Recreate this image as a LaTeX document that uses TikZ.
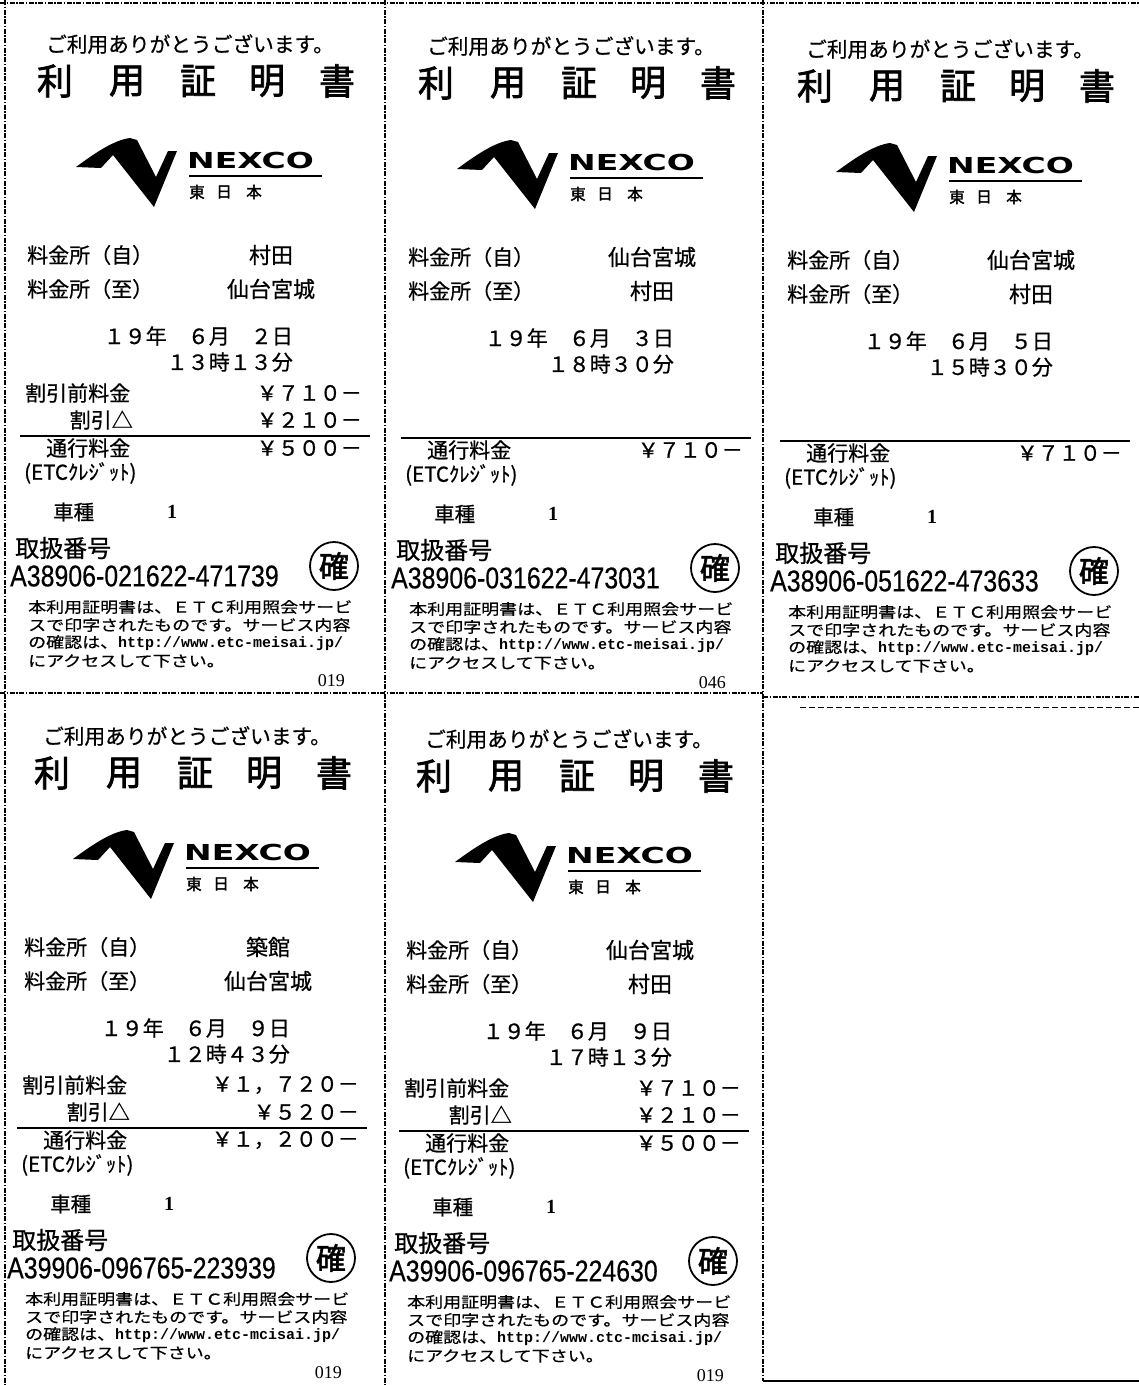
\documentclass[tikz,border=0pt]{standalone}
\usepackage{fontspec}
\newfontfamily\jp[FakeBold=0.7]{Noto Sans CJK JP}
\newfontfamily\jpb[FakeBold=2]{Noto Sans CJK JP}
\newfontfamily\jpw[FakeStretch=1.2,FakeBold=0.6]{Noto Sans CJK JP}
\newfontfamily\nex[FakeStretch=1.5]{DejaVu Sans}
\newfontfamily\idf[FakeStretch=0.83,FakeBold=0.4]{Liberation Sans}
\newfontfamily\monof{Liberation Mono}
\newfontfamily\serf{Liberation Serif}
\tikzset{
  cut/.style={line width=1.3pt, dash pattern=on 5pt off 1.5pt on 1.5pt off 1.5pt},
  txt/.style={inner sep=0pt, font=\jp\fontsize{21}{21}\selectfont},
  greet/.style={inner sep=0pt, font=\jp\fontsize{20.7}{21}\selectfont},
  titl/.style={inner sep=0pt, font=\jpb\fontsize{36}{36}\selectfont},
  val/.style={inner sep=0pt, font=\jp\fontsize{22}{22}\selectfont},
  small/.style={inner sep=0pt, font=\jp\fontsize{20.5}{21}\selectfont},
  note/.style={inner sep=0pt, anchor=west, font=\jpw\fontsize{15}{15}\selectfont},
  nexco/.style={inner sep=0pt, font=\nex\bfseries\fontsize{22}{22}\selectfont},
  east3/.style={inner sep=0pt, font=\jpb\fontsize{15.5}{16}\selectfont},
  idtxt/.style={inner sep=0pt, anchor=west, font=\idf\fontsize{30}{30}\selectfont},
  stamp/.style={inner sep=0pt, font=\jpb\fontsize{30}{30}\selectfont},
  pg/.style={inner sep=0pt, anchor=east, font=\serf\fontsize{18}{18}\selectfont},
}
\newcommand\urltext{http://www.etc-meisai.jp/}
% #1 dx #2 dy #3 from #4 to #5 date #6 time #7 toll #8 id #9 page
\newcommand\rcpt[9]{%
\begin{scope}[shift={(#1,#2)}]
  \node[greet] (g) at (190,44) {ご利用ありがとうございます。};
  \node[titl] (t1) at (55,81) {利};
  \node[titl] (t2) at (127,81) {用};
  \node[titl] (t3) at (198,81) {証};
  \node[titl] (t4) at (267,81) {明};
  \node[titl] (t5) at (337,81) {書};
  \fill (76,167) .. controls (95,153) and (114,140) .. (130,138) -- (137,140) -- (156,177)
     -- (168,151) -- (177,151) -- (154,207) -- (113,155) -- (101,168) -- cycle;
  \node[nexco, anchor=west] (nx) at (187,160) {NEXCO};
  \draw[line width=1.2pt] (189,176) -- (322,176);
  \node[east3] (e1) at (197,192) {東};
  \node[east3] (e2) at (224,192) {日};
  \node[east3] (e3) at (254,192) {本};
  \node[txt, anchor=west] (f1) at (27,255) {料金所（自）};
  \node[val] (v1) at (271,255) {#3};
  \node[txt, anchor=west] (f2) at (27,289) {料金所（至）};
  \node[val] (v2) at (271,289) {#4};
  \node[txt, anchor=east] (d1) at (293,336) {#5};
  \node[txt, anchor=east] (d2) at (293,362) {#6};
  \draw[line width=1.6pt] (20,436) -- (370,436);
  \node[txt, anchor=west] (k3) at (46,448) {通行料金};
  \node[txt, anchor=east] (a3) at (362,448) {#7};
  \node[small, anchor=west] (etc) at (24,473) {(ETCｸﾚｼﾞｯﾄ)};
  \node[small, anchor=west] (sy) at (53,512) {車種};
  \node[inner sep=0pt, font=\serf\bfseries\fontsize{20}{20}\selectfont] (one) at (172,512) {1};
  \node[inner sep=0pt, anchor=west, font=\jp\fontsize{24}{24}\selectfont] (tb) at (15,548) {取扱番号};
  \node[idtxt] (id) at (10,576) {#8};
  \node[draw, circle, line width=1.8pt, minimum size=48pt, inner sep=0pt] (ring) at (334,566) {};
  \node[stamp] (st) at (ring.center) {確};
  \node[note] (n1) at (28,607) {本利用証明書は、ＥＴＣ利用照会サービ};
  \node[note] (n2) at (28,625) {スで印字されたものです。サービス内容};
  \node[note] (n3) at (28,643) {の確認は、{\monof\bfseries\fontsize{15}{15}\selectfont\urltext}};
  \node[note] (n4) at (28,661) {にアクセスして下さい。};
  \node[pg] (p) at (345,681) {#9};
\end{scope}}
\newcommand\disc[4]{%
\begin{scope}[shift={(#1,#2)}]
  \node[txt, anchor=west] (k1) at (25,393) {割引前料金};
  \node[txt, anchor=east] (a1) at (362,393) {#3};
  \node[txt, anchor=east] (k2) at (133,420) {割引△};
  \node[txt, anchor=east] (a2) at (362,420) {#4};
\end{scope}}
\begin{document}
\begin{tikzpicture}[x=1pt,y=-1pt]
\fill[white] (0,0) rectangle (1139,1385);
\useasboundingbox (0,0) rectangle (1139,1385);
% cut lines
\draw[cut] (0,3) -- (1139,3);
\draw[cut] (5,0) -- (5,1385);
\draw[cut] (385,0) -- (385,1385);
\draw[cut] (763,0) -- (763,1381);
\draw[cut] (0,693) -- (763,693);
\draw[cut] (763,697) -- (1139,697);
\draw[line width=0.8pt, dash pattern=on 6pt off 3pt] (800,707) -- (1139,707);
\draw[line width=1.5pt] (763,1381) -- (1139,1381);
% receipts
\rcpt{0}{0}{村田}{仙台宮城}{１９年　６月　２日}{１３時１３分}{￥５００－}{A38906-021622-471739}{019}
\disc{0}{0}{￥７１０－}{￥２１０－}
\rcpt{381}{2}{仙台宮城}{村田}{１９年　６月　３日}{１８時３０分}{￥７１０－}{A38906-031622-473031}{046}
\rcpt{760}{5}{仙台宮城}{村田}{１９年　６月　５日}{１５時３０分}{￥７１０－}{A38906-051622-473633}{}
\renewcommand\urltext{http://www.etc-mcisai.jp/}
\rcpt{-3}{692}{築館}{仙台宮城}{１９年　６月　９日}{１２時４３分}{￥１，２００－}{A39906-096765-223939}{019}
\disc{-3}{692}{￥１，７２０－}{￥５２０－}
\renewcommand\urltext{http://www.ctc-mcisai.jp/}
\rcpt{379}{695}{仙台宮城}{村田}{１９年　６月　９日}{１７時１３分}{￥５００－}{A39906-096765-224630}{019}
\disc{379}{695}{￥７１０－}{￥２１０－}
\end{tikzpicture}
\end{document}
